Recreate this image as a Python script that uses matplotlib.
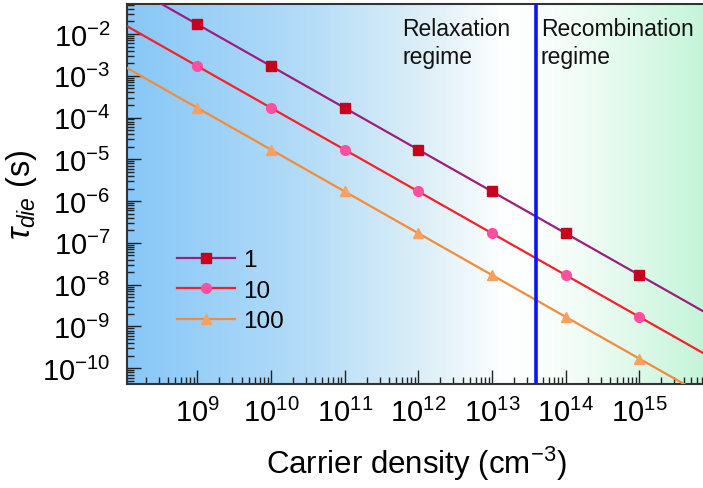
import numpy as np
import matplotlib
matplotlib.use("Agg")
import matplotlib.pyplot as plt
from matplotlib.colors import LinearSegmentedColormap
from matplotlib.ticker import LogLocator, NullFormatter, FixedLocator

plt.rcParams['font.family'] = ['Liberation Sans', 'DejaVu Sans']
plt.rcParams['mathtext.fontset'] = 'custom'
plt.rcParams['mathtext.rm'] = 'Liberation Sans'
plt.rcParams['mathtext.it'] = 'Liberation Sans:italic'
plt.rcParams['mathtext.bf'] = 'Liberation Sans:bold'

# ---- data ----
series_labels = ["1", "10", "100"]
line_density = [1e8, 1e9, 1e10, 1e11, 1e12, 1e13, 1e14, 1e15, 1e16]
marker_density = [1e9, 1e10, 1e11, 1e12, 1e13, 1e14, 1e15]
tau_mu1 = [1.7e-1, 1.7e-2, 1.7e-3, 1.7e-4, 1.7e-5, 1.7e-6, 1.7e-7, 1.7e-8, 1.7e-9]
tau_mu10 = [1.7e-2, 1.7e-3, 1.7e-4, 1.7e-5, 1.7e-6, 1.7e-7, 1.7e-8, 1.7e-9, 1.7e-10]
tau_mu100 = [1.7e-3, 1.7e-4, 1.7e-5, 1.7e-6, 1.7e-7, 1.7e-8, 1.7e-9, 1.7e-10, 1.7e-11]
boundary_density = 4.0e13
x_limits = (1.11e8, 8.0e15)
y_limits = (4.2e-11, 5.2e-2)
x_major_ticks = [1e9, 1e10, 1e11, 1e12, 1e13, 1e14, 1e15]
y_major_ticks = [1e-10, 1e-9, 1e-8, 1e-7, 1e-6, 1e-5, 1e-4, 1e-3, 1e-2]

line_colors = ["#9c1f7e", "#f5212a", "#f28c3c"]
marker_colors = ["#c8001e", "#ff4f9e", "#f7a060"]
markers = ["s", "o", "^"]
all_tau = [tau_mu1, tau_mu10, tau_mu100]

fig = plt.figure(figsize=(7.03, 4.89), dpi=100)
ax = fig.add_axes([127/703, 1 - 385/489, (703 - 127)/703 + 0.004, (385 - 5)/489])

# background gradient
stops = [(0.0, (0.53, 0.78, 0.97)), (0.3, (0.70, 0.86, 0.97)),
         (0.52, (0.87, 0.94, 0.97)), (0.66, (1.0, 1.0, 1.0)),
         (0.78, (0.95, 0.99, 0.97)), (1.0, (0.77, 0.96, 0.85))]
cmap = LinearSegmentedColormap.from_list("bg", stops)
grad = np.linspace(0, 1, 512).reshape(1, -1)
ax.imshow(grad, extent=[0, 1, 0, 1], transform=ax.transAxes, cmap=cmap,
          aspect='auto', zorder=0)

for tau, lab, lc, mc, mk in zip(all_tau, series_labels, line_colors, marker_colors, markers):
    ld = np.array(line_density)
    t = np.array(tau)
    mask = np.isin(ld, marker_density)
    ax.plot(ld, t, color=lc, lw=1.6, zorder=3)
    ax.plot(ld[mask], t[mask], ls='none', marker=mk, ms=7, color=mc,
            markeredgecolor=mc, zorder=4)
    ax.plot([], [], color=lc, lw=1.6, marker=mk, ms=7, markerfacecolor=mc,
            markeredgecolor=mc, label=lab)

ax.axvline(boundary_density, color="#0a14ff", lw=2.6, zorder=5)

ax.set_xscale('log')
ax.set_yscale('log')
ax.set_xlim(*x_limits)
ax.set_ylim(*y_limits)

ax.xaxis.set_major_locator(FixedLocator(x_major_ticks))
ax.yaxis.set_major_locator(FixedLocator(y_major_ticks))
ax.xaxis.set_minor_locator(LogLocator(base=10, subs=np.arange(2, 10), numticks=20))
ax.yaxis.set_minor_locator(LogLocator(base=10, subs=np.arange(2, 10), numticks=20))
ax.xaxis.set_minor_formatter(NullFormatter())
ax.yaxis.set_minor_formatter(NullFormatter())

ax.tick_params(which='both', direction='in', top=False, right=False, color='#222222')
ax.tick_params(which='major', length=10, width=1.0, labelsize=21)
ax.tick_params(which='minor', length=5, width=1.0)
ax.tick_params(axis='y', which='major', pad=12)
ax.tick_params(axis='x', which='major', pad=10)

for s in ax.spines.values():
    s.set_color('#333333')
    s.set_linewidth(1.5)
ax.spines['right'].set_visible(False)

ax.set_xlabel("Carrier density (cm$^{-3}$)", fontsize=22.5, labelpad=12)
ax.set_ylabel(r"$\tau_{die}$ (s)", fontsize=23.5, labelpad=2)

ax.text(402/703, 1 - 18/489, "Relaxation\nregime", transform=fig.transFigure,
        fontsize=16.5, va='top', ha='left', color='#111111', linespacing=1.3)
ax.text(541/703, 1 - 18/489, "Recombination\nregime", transform=fig.transFigure,
        fontsize=16.5, va='top', ha='left', color='#111111', linespacing=1.3)

leg = ax.legend(loc='upper left', bbox_to_anchor=(0.048, 0.412), frameon=False,
                fontsize=17.5, handlelength=2.4, handletextpad=0.35, labelspacing=0.35)

fig.savefig("out.png", dpi=100)
